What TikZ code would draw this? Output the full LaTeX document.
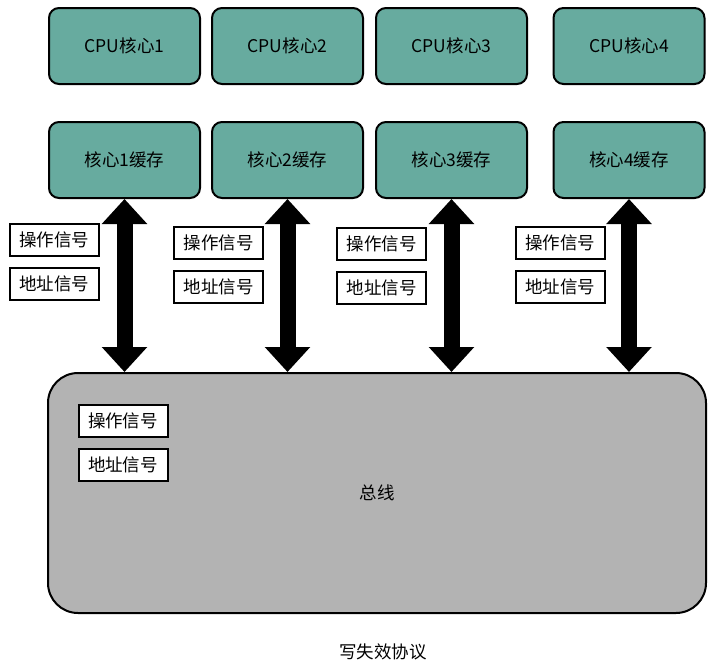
\documentclass[tikz,border=0pt]{standalone}
\usepackage{fontspec}
\setmainfont{Noto Sans CJK SC}
\usetikzlibrary{arrows.meta}
\definecolor{coreteal}{HTML}{67AB9F}
\definecolor{busgray}{HTML}{B3B3B3}
\begin{document}
\begin{tikzpicture}[x=1pt, y=-1pt, every node/.style={font=\fontsize{17.5}{20}\selectfont},
    core/.style={draw, line width=2pt, fill=coreteal, rounded corners=10pt, minimum width=151pt, minimum height=76pt},
    sig/.style={draw, line width=2pt, fill=white, minimum width=89pt, minimum height=32pt, inner sep=0pt},
    bigarrow/.style={line width=16pt, {Triangle[width=44pt,length=25pt]}-{Triangle[width=44pt,length=25pt]}}]
    \useasboundingbox (0,0) rectangle (724,664);
    % CPU cores
    \node[core] (cpu1) at (124.5,46) {CPU核心1};
    \node[core] (cpu2) at (287.5,46) {CPU核心2};
    \node[core] (cpu3) at (451.5,46) {CPU核心3};
    \node[core] (cpu4) at (629,46) {CPU核心4};
    % caches
    \node[core] (c1) at (124.5,160) {核心1缓存};
    \node[core] (c2) at (287.5,160) {核心2缓存};
    \node[core] (c3) at (451.5,160) {核心3缓存};
    \node[core] (c4) at (629,160) {核心4缓存};
    % bus
    \node[draw, line width=2pt, fill=busgray, rounded corners=30pt, minimum width=658pt, minimum height=240pt] (bus) at (377,493) {总线};
    % signals
    \node[sig] (op1) at (54.5,240) {操作信号};
    \node[sig] (ad1) at (54.5,284) {地址信号};
    \node[sig] (op2) at (218.5,242.5) {操作信号};
    \node[sig] (ad2) at (218.5,286.5) {地址信号};
    \node[sig] (op3) at (381.5,244) {操作信号};
    \node[sig] (ad3) at (381.5,288) {地址信号};
    \node[sig] (op4) at (560,242.5) {操作信号};
    \node[sig] (ad4) at (560,286.5) {地址信号};
    \node[sig] (opb) at (123,421) {操作信号};
    \node[sig] (adb) at (123,465) {地址信号};
    % arrows
    \draw[bigarrow] (c1.south) -- (c1.south |- bus.north);
    \draw[bigarrow] (c2.south) -- (c2.south |- bus.north);
    \draw[bigarrow] (c3.south) -- (c3.south |- bus.north);
    \draw[bigarrow] (c4.south) -- (c4.south |- bus.north);
    \node (cap) at (383,652) {写失效协议};
\end{tikzpicture}
\end{document}
